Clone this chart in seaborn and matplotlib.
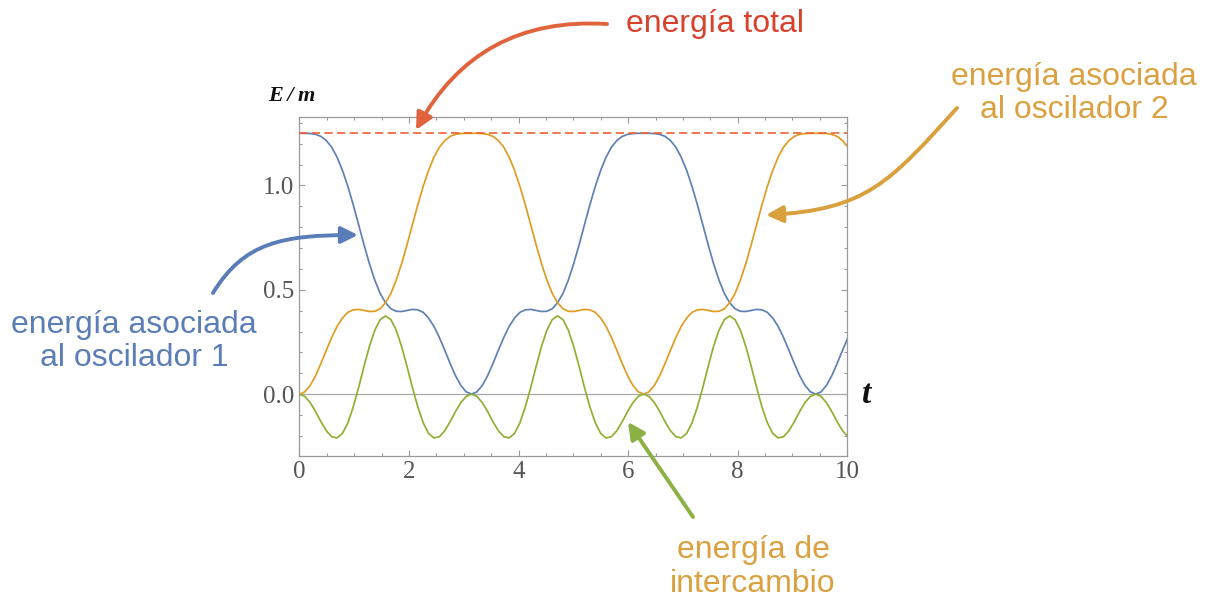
import matplotlib
matplotlib.use("Agg")
import matplotlib.pyplot as plt
import seaborn as sns
import pandas as pd

from matplotlib.patches import FancyArrowPatch, ArrowStyle
from matplotlib.path import Path
from matplotlib.ticker import MultipleLocator, FormatStrFormatter

# =========================================================
# DATA
# =========================================================

t = [
    0.000, 0.098, 0.196, 0.295, 0.393, 0.491, 0.589, 0.687, 0.785, 0.884,
    0.982, 1.080, 1.178, 1.276, 1.374, 1.473, 1.571, 1.669, 1.767, 1.865,
    1.963, 2.062, 2.160, 2.258, 2.356, 2.454, 2.553, 2.651, 2.749, 2.847,
    2.945, 3.043, 3.142, 3.240, 3.338, 3.436, 3.534, 3.632, 3.731, 3.829,
    3.927, 4.025, 4.123, 4.222, 4.320, 4.418, 4.516, 4.614, 4.712, 4.811,
    4.909, 5.007, 5.105, 5.203, 5.301, 5.400, 5.498, 5.596, 5.694, 5.792,
    5.890, 5.989, 6.087, 6.185, 6.283, 6.381, 6.480, 6.578, 6.676, 6.774,
    6.872, 6.970, 7.069, 7.167, 7.265, 7.363, 7.461, 7.559, 7.658, 7.756,
    7.854, 7.952, 8.050, 8.149, 8.247, 8.345, 8.443, 8.541, 8.639, 8.738,
    8.836, 8.934, 9.032, 9.130, 9.228, 9.327, 9.425, 9.523, 9.621, 9.719,
    9.817, 9.916, 10.014,
]

energia_osc1 = [
    1.250, 1.250, 1.249, 1.245, 1.235, 1.215, 1.183, 1.135, 1.072, 0.995,
    0.907, 0.812, 0.716, 0.626, 0.547, 0.483, 0.438, 0.409, 0.397, 0.396,
    0.401, 0.406, 0.404, 0.392, 0.365, 0.325, 0.272, 0.211, 0.148, 0.089,
    0.042, 0.011, 0.000, 0.011, 0.042, 0.089, 0.148, 0.211, 0.272, 0.325,
    0.365, 0.392, 0.404, 0.406, 0.401, 0.396, 0.397, 0.409, 0.438, 0.483,
    0.547, 0.626, 0.716, 0.812, 0.907, 0.995, 1.072, 1.135, 1.183, 1.215,
    1.235, 1.245, 1.249, 1.250, 1.250, 1.250, 1.249, 1.245, 1.235, 1.215,
    1.183, 1.135, 1.072, 0.995, 0.907, 0.812, 0.716, 0.626, 0.547, 0.483,
    0.438, 0.409, 0.397, 0.396, 0.401, 0.406, 0.404, 0.392, 0.365, 0.325,
    0.272, 0.211, 0.148, 0.089, 0.042, 0.011, 0.000, 0.011, 0.042, 0.089,
    0.148, 0.211, 0.272,
]

energia_osc2 = [
    0.000, 0.011, 0.042, 0.089, 0.148, 0.211, 0.272, 0.325, 0.365, 0.392,
    0.404, 0.406, 0.401, 0.396, 0.397, 0.409, 0.438, 0.483, 0.547, 0.626,
    0.716, 0.812, 0.907, 0.995, 1.072, 1.135, 1.183, 1.215, 1.235, 1.245,
    1.249, 1.250, 1.250, 1.250, 1.249, 1.245, 1.235, 1.215, 1.183, 1.135,
    1.072, 0.995, 0.907, 0.812, 0.716, 0.626, 0.547, 0.483, 0.438, 0.409,
    0.397, 0.396, 0.401, 0.406, 0.404, 0.392, 0.365, 0.325, 0.272, 0.211,
    0.148, 0.089, 0.042, 0.011, 0.000, 0.011, 0.042, 0.089, 0.148, 0.211,
    0.272, 0.325, 0.365, 0.392, 0.404, 0.406, 0.401, 0.396, 0.397, 0.409,
    0.438, 0.483, 0.547, 0.626, 0.716, 0.812, 0.907, 0.995, 1.072, 1.135,
    1.183, 1.215, 1.235, 1.245, 1.249, 1.250, 1.250, 1.250, 1.249, 1.245,
    1.235, 1.215, 1.183,
]

energia_intercambio = [
    0.000, -0.011, -0.041, -0.084, -0.133, -0.176, -0.204, -0.210, -0.188, -0.137,
    -0.061, 0.032, 0.133, 0.228, 0.306, 0.357, 0.375, 0.357, 0.306, 0.228,
    0.133, 0.032, -0.061, -0.137, -0.188, -0.210, -0.204, -0.176, -0.133, -0.084,
    -0.041, -0.011, 0.000, -0.011, -0.041, -0.084, -0.133, -0.176, -0.204, -0.210,
    -0.188, -0.137, -0.061, 0.032, 0.133, 0.228, 0.306, 0.357, 0.375, 0.357,
    0.306, 0.228, 0.133, 0.032, -0.061, -0.137, -0.188, -0.210, -0.204, -0.176,
    -0.133, -0.084, -0.041, -0.011, 0.000, -0.011, -0.041, -0.084, -0.133, -0.176,
    -0.204, -0.210, -0.188, -0.137, -0.061, 0.032, 0.133, 0.228, 0.306, 0.357,
    0.375, 0.357, 0.306, 0.228, 0.133, 0.032, -0.061, -0.137, -0.188, -0.210,
    -0.204, -0.176, -0.133, -0.084, -0.041, -0.011, 0.000, -0.011, -0.041, -0.084,
    -0.133, -0.176, -0.204,
]

energia_total = 1.25

x_ticks_step = 2
y_ticks_step = 0.5

# =========================================================
# FIGURE
# =========================================================

sns.set_theme(style="white")
plt.rcParams["font.family"] = ["Liberation Sans", "DejaVu Sans"]

W, H = 1210, 601
fig = plt.figure(figsize=(W / 100, H / 100), dpi=100)
ax = fig.add_axes([0.2475, 0.2418, 0.4527, 0.5631])


def px(x, y):
    # image pixel (origin top-left) -> figure fraction
    return x / W, 1 - y / H


datos = pd.DataFrame({
    "t": t * 3,
    "E": energia_osc1 + energia_osc2 + energia_intercambio,
    "serie": ["osc1"] * len(t) + ["osc2"] * len(t) + ["intercambio"] * len(t),
})

ax.axhline(0, color="#a8a8a8", lw=0.9, zorder=1)

sns.lineplot(
    data=datos,
    x="t",
    y="E",
    hue="serie",
    palette={"osc1": "#5E81B5", "osc2": "#E19C24", "intercambio": "#8FB032"},
    linewidth=1.25,
    estimator=None,
    sort=False,
    legend=False,
    ax=ax,
)

ax.axhline(energia_total, color="#EB6235", lw=1.2, dashes=(5, 2.6), zorder=3)

# =========================================================
# AXES STYLE (Mathematica-like frame)
# =========================================================

ax.set_xlim(0, 10)
ax.set_ylim(-0.295, 1.327)
ax.set_xlabel("")
ax.set_ylabel("")

ax.xaxis.set_major_locator(MultipleLocator(x_ticks_step))
ax.xaxis.set_minor_locator(MultipleLocator(0.5))
ax.yaxis.set_major_locator(MultipleLocator(y_ticks_step))
ax.yaxis.set_minor_locator(MultipleLocator(0.1))
ax.yaxis.set_major_formatter(FormatStrFormatter("%.1f"))

ax.tick_params(
    which="both", direction="in",
    bottom=True, left=True, top=True, right=True,
    color="#9a9a9a", width=0.8,
)
ax.tick_params(
    which="major", length=4.5, labelsize=18,
    labelcolor="#555555", labelfontfamily="Liberation Serif", pad=4,
)
ax.tick_params(which="minor", length=2.5)

for s in ax.spines.values():
    s.set_color("#9a9a9a")
    s.set_linewidth(0.9)

fig.text(*px(268, 101), "E\u2009/\u2009m", ha="left", va="baseline",
         family=["Liberation Serif", "DejaVu Serif"], style="italic",
         weight="bold", fontsize=16, color="#111111")
fig.text(*px(862, 403), "t", ha="left", va="baseline",
         family="Liberation Serif", style="italic", weight="bold",
         fontsize=24, color="#111111")

# =========================================================
# ANNOTATIONS
# =========================================================


def etiqueta(lineas, x, y0, color, salto=33):
    for i, linea in enumerate(lineas):
        fig.text(*px(x, y0 + salto * i), linea, ha="center", va="baseline",
                 fontsize=23, color=color)


def flecha(puntos, codigos, color):
    camino = Path([px(x, y) for x, y in puntos], codigos)
    fig.add_artist(FancyArrowPatch(
        path=camino,
        transform=fig.transFigure,
        arrowstyle=ArrowStyle("-|>", head_length=1.0, head_width=0.5),
        mutation_scale=10,
        lw=2.8,
        color=color,
    ))


etiqueta(["energía total"], 715, 32, "#D9412D")
etiqueta(["energía asociada", "al oscilador 2"], 1074, 85, "#DBA040")
etiqueta(["energía asociada", "al oscilador 1"], 134, 333, "#5C7EB6")
etiqueta(["energía de", "intercambio"], 753, 558, "#DBA040", salto=34)

flecha([(607, 24), (478, 16), (416, 130)],
       [Path.MOVETO, Path.CURVE3, Path.CURVE3], "#E0633C")
flecha([(957, 108), (890, 182), (866, 210), (766, 215)],
       [Path.MOVETO, Path.CURVE4, Path.CURVE4, Path.CURVE4], "#D9A03E")
flecha([(213, 293), (244, 242), (283, 235), (358, 235)],
       [Path.MOVETO, Path.CURVE4, Path.CURVE4, Path.CURVE4], "#5A7DB7")
flecha([(693, 517), (628, 422)],
       [Path.MOVETO, Path.LINETO], "#8BB043")

fig.savefig("out.png", dpi=100, facecolor="white")
